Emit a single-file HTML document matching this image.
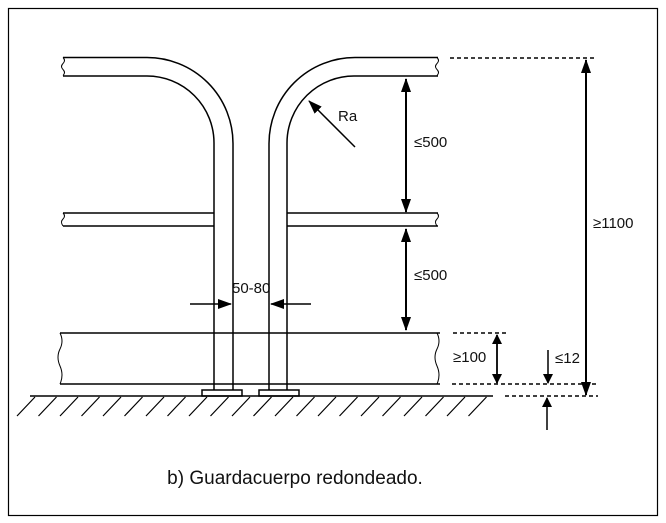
<!DOCTYPE html>
<html><head><style>
html,body{margin:0;padding:0;background:#fff;}
svg{display:block;}
text{font-family:"Liberation Sans",sans-serif;fill:#111;}
</style></head><body>
<svg width="666" height="523" viewBox="0 0 666 523" xmlns="http://www.w3.org/2000/svg">
<defs>
<marker id="ah" markerWidth="10" markerHeight="10" refX="9" refY="5" orient="auto-start-reverse" markerUnits="userSpaceOnUse" viewBox="0 0 10 10">
<path d="M0,0 L10,5 L0,10 z" fill="#000"/>
</marker>
<marker id="ab" markerWidth="14" markerHeight="12" refX="13" refY="6" orient="auto-start-reverse" markerUnits="userSpaceOnUse" viewBox="0 0 14 12">
<path d="M0,1 L14,6 L0,11 z" fill="#000"/>
</marker>
</defs>
<rect x="8.5" y="8.5" width="649" height="507" fill="none" stroke="#000" stroke-width="1.2"/>
<g fill="none" stroke="#000" stroke-width="1.5">
<path d="M63,57.5 H147 A86,86 0 0 1 233,143.5 V390"/>
<path d="M63,76 H147 A67,67 0 0 1 214,143 V390"/>
<path d="M438,57.5 H355 A86,86 0 0 0 269,143.5 V390"/>
<path d="M438,76 H355 A67,67 0 0 0 287,143 V390"/>
<path d="M63,213 H214 M63,226 H214 M287,213 H438 M287,226 H438"/>
<path d="M60,333 H440 M60,384 H440"/>
<path d="M63,57.5 q3,3 0,6 q-3,3 0,6 q3,3 0,6" stroke-width="1"/>
<path d="M437,57.5 q3,3 0,6 q-3,3 0,6 q3,3 0,6" stroke-width="1"/>
<path d="M63,213 q3,3 0,6 q-3,3 0,7" stroke-width="1"/>
<path d="M437,213 q3,3 0,6 q-3,3 0,7" stroke-width="1"/>
<path d="M60,333 q4,8 0,16 q-4,8 0,17 q4,9 0,18" stroke-width="1"/>
<path d="M437,333 q4,8 0,16 q-4,8 0,17 q4,9 0,18" stroke-width="1"/>
<rect x="202" y="390" width="40" height="6" fill="#fff"/>
<rect x="259" y="390" width="40" height="6" fill="#fff"/>
<path d="M30,396 H493"/>
</g>
<g stroke="#000" stroke-width="1.2">
<path d="M35,397 l-18,19 M56.5,397 l-18,19 M78,397 l-18,19 M99.5,397 l-18,19 M121,397 l-18,19 M142.5,397 l-18,19 M164,397 l-18,19 M185.5,397 l-18,19 M207,397 l-18,19 M228.5,397 l-18,19 M250,397 l-18,19 M271.5,397 l-18,19 M293,397 l-18,19 M314.5,397 l-18,19 M336,397 l-18,19 M357.5,397 l-18,19 M379,397 l-18,19 M400.5,397 l-18,19 M422,397 l-18,19 M443.5,397 l-18,19 M465,397 l-18,19 M486.5,397 l-18,19"/>
</g>
<g stroke="#000" stroke-width="1.5" stroke-dasharray="4,3">
<path d="M450,58 H596 M453,333 H508 M452,384 H598 M505,396 H598"/>
</g>
<g stroke="#000" stroke-width="2" fill="none">
<path d="M406,79 V212" marker-start="url(#ab)" marker-end="url(#ab)"/>
<path d="M406,229 V330" marker-start="url(#ab)" marker-end="url(#ab)"/>
<path d="M586,60 V395" marker-start="url(#ab)" marker-end="url(#ab)"/>
<path d="M497,335 V383" marker-start="url(#ah)" marker-end="url(#ah)" stroke-width="1.8"/>
</g>
<g stroke="#000" stroke-width="1.5" fill="none">
<path d="M548,350 V383" marker-end="url(#ah)"/>
<path d="M547,430 V398" marker-end="url(#ah)"/>
<path d="M355,147 L309,101" marker-end="url(#ab)"/>
<path d="M190,304 H231" marker-end="url(#ab)"/>
<path d="M311,304 H271" marker-end="url(#ab)"/>
</g>
<g font-size="15">
<text x="338" y="121">Ra</text>
<text x="414" y="147">≤500</text>
<text x="414" y="280">≤500</text>
<text x="593" y="228">≥1100</text>
<text x="453" y="362">≥100</text>
<text x="555" y="363">≤12</text>
<text x="232" y="293">50-80</text>
</g>
<text x="295" y="484" font-size="19" text-anchor="middle">b) Guardacuerpo redondeado.</text>
</svg>
</body></html>
